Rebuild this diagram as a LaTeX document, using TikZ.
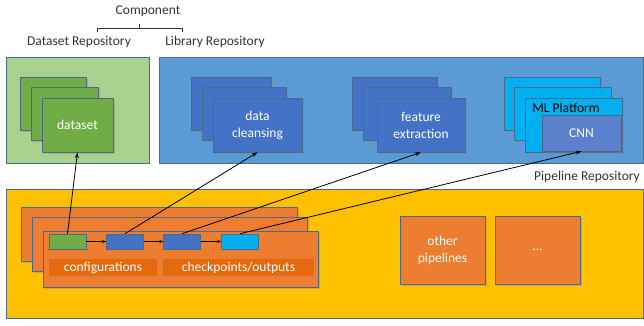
\documentclass[tikz,border=0pt]{standalone}
\usepackage{fontspec}
\setmainfont{Carlito}
\usetikzlibrary{shadows,arrows.meta}
\definecolor{edgec}{HTML}{4A6A8F}
\definecolor{lgreen}{HTML}{A9D18E}
\definecolor{dgreen}{HTML}{70AD47}
\definecolor{lblue}{HTML}{5B9BD5}
\definecolor{dblue}{HTML}{4472C4}
\definecolor{cyanc}{HTML}{00B0F0}
\definecolor{cnnc}{HTML}{5B80CC}
\definecolor{yellowc}{HTML}{FFC000}
\definecolor{orangec}{HTML}{ED7D31}
\definecolor{barc}{HTML}{E4690F}
\tikzset{
  repo/.style={rectangle, draw=edgec, line width=0.6pt, inner sep=0pt},
  card/.style={rectangle, draw=edgec, line width=0.6pt, inner sep=0pt, text=white, align=center,
    drop shadow={shadow xshift=1.5pt, shadow yshift=-1.5pt, opacity=0.35}},
  chip/.style={rectangle, draw=edgec, line width=0.6pt, inner sep=0pt, minimum width=37pt, minimum height=15pt},
  bar/.style={rectangle, fill=barc, inner sep=0pt, text=white, minimum height=17pt},
  lbl/.style={text=black!80},
  link/.style={-{Stealth[length=6pt,width=4pt]}, line width=0.8pt},
  step link/.style={-{Stealth[length=4pt,width=3pt]}, line width=0.6pt}
}
\begin{document}
\begin{tikzpicture}[x=1pt,y=-1pt,font=\fontsize{13.5}{17}\selectfont]
\useasboundingbox (0,0) rectangle (644,325);

\node[lbl] (comp) at (148,11) {Component};
\node[lbl] (dsrepo) at (79,42) {Dataset Repository};
\node[lbl] (librepo) at (215,42) {Library Repository};
\node[lbl] (piperepo) at (587,177) {Pipeline Repository};
\draw[line width=0.7pt, black!80] (97,32) -- (97,28) -- (182,28) -- (182,32) (139.5,28) -- (139.5,24);

\node[repo, fill=lgreen, minimum width=143pt, minimum height=106pt] (dsbox) at (77.5,110) {};
\node[repo, fill=lblue, minimum width=484pt, minimum height=106pt] (libbox) at (401,110) {};
\node[repo, fill=yellowc, minimum width=637pt, minimum height=129pt] (pipebox) at (324.5,253.5) {};

\node[card, fill=dgreen, minimum width=66pt, minimum height=53pt] (ds1) at (53,103.5) {};
\node[card, fill=dgreen, minimum width=67pt, minimum height=53pt] (ds2) at (64.5,113.5) {};
\node[card, fill=dgreen, minimum width=71pt, minimum height=54pt] (ds3) at (77.5,125) {dataset};

\node[card, fill=dblue, minimum width=80pt, minimum height=53pt] (dc1) at (231,103.5) {};
\node[card, fill=dblue, minimum width=84pt, minimum height=53pt] (dc2) at (244,113.5) {};
\node[card, fill=dblue, minimum width=89pt, minimum height=54pt] (dc3) at (257.5,125) {data\\cleansing};

\node[card, fill=dblue, minimum width=85pt, minimum height=53pt] (fe1) at (394.5,103.5) {};
\node[card, fill=dblue, minimum width=88pt, minimum height=53pt] (fe2) at (407,113.5) {};
\node[card, fill=dblue, minimum width=88pt, minimum height=54pt] (fe3) at (421,125) {feature\\extraction};

\node[card, fill=cyanc, minimum width=96pt, minimum height=53pt] (ml1) at (552,103.5) {};
\node[card, fill=cyanc, minimum width=97pt, minimum height=53pt] (ml2) at (562.5,113.5) {};
\node[card, fill=cyanc, minimum width=97pt, minimum height=54pt] (ml3) at (573.5,125) {};
\node[text=black] (mltext) at (566,108) {ML Platform};
\node[card, fill=cnnc, minimum width=79pt, minimum height=36pt] (cnn) at (581.5,133) {CNN};

\node[card, fill=orangec, minimum width=276pt, minimum height=54pt] (pl1) at (159,234) {};
\node[card, fill=orangec, minimum width=275pt, minimum height=54pt] (pl2) at (169.5,244) {};
\node[card, fill=orangec, minimum width=275pt, minimum height=56pt] (pl3) at (180.5,259) {};

\node[chip, fill=dgreen] (cfg) at (67.5,241.5) {};
\node[chip, fill=dblue] (ck1) at (125,241.5) {};
\node[chip, fill=dblue] (ck2) at (182,241.5) {};
\node[chip, fill=cyanc] (ck3) at (240,241.5) {};
\node[bar, minimum width=108pt] (cfgbar) at (103,267.5) {configurations};
\node[bar, minimum width=151pt] (ckbar) at (238.5,267.5) {checkpoints/outputs};

\node[card, fill=orangec, minimum width=85pt, minimum height=68pt] (other) at (442.5,250) {other\\pipelines};
\node[card, fill=orangec, minimum width=85pt, minimum height=68pt] (more) at (537.5,250) {...};

\draw[step link] (cfg) -- (ck1);
\draw[step link] (ck1) -- (ck2);
\draw[step link] (ck2) -- (ck3);

\draw[link] (cfg.north) -- (ds3.south);
\draw[link] (ck1.north) -- (dc3.south);
\draw[link] (ck2.north) -- (fe3.south);
\draw[link] (ck3.north) -- (cnn.south);
\end{tikzpicture}
\end{document}
